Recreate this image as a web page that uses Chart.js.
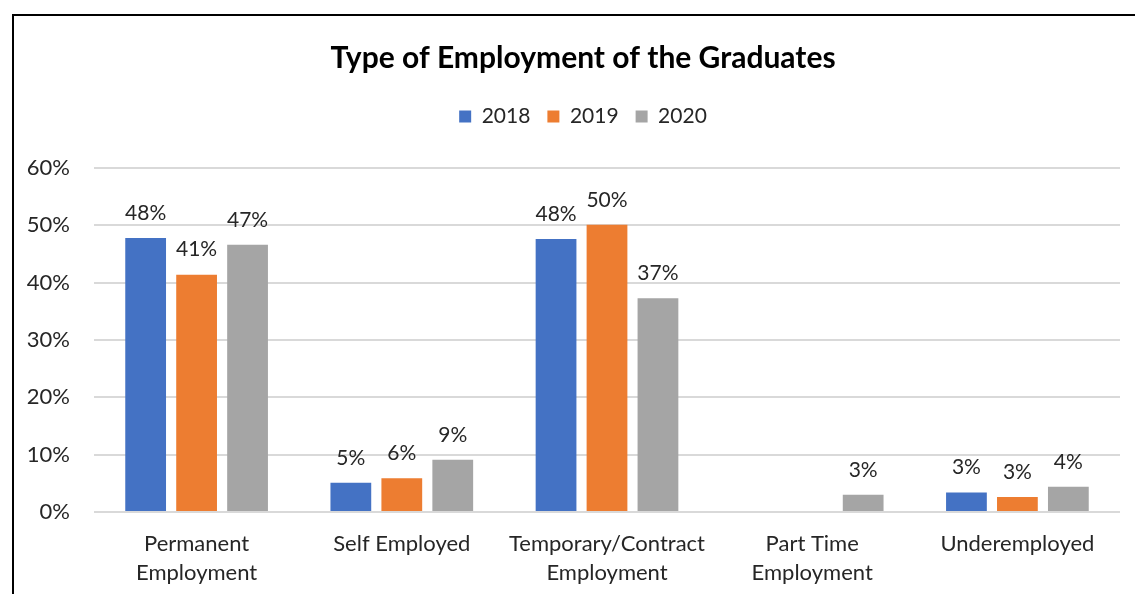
<!DOCTYPE html>
<html>
<head>
<meta charset="utf-8">
<script src="https://cdn.jsdelivr.net/npm/chart.js@4"></script>
<style>
body{margin:0;background:#fff;overflow:hidden;}
#box{position:absolute;left:12px;top:14px;width:1138px;height:578px;border-top:2px solid #000;border-left:2px solid #000;}
</style>
</head>
<body>
<div id="box"><canvas id="myChart" width="1138" height="578"></canvas></div>
<script>
var categories = [['Permanent','Employment'], 'Self Employed', ['Temporary/Contract','Employment'], ['Part Time','Employment'], 'Underemployed'];
var years = ['2018', '2019', '2020'];
var values2018 = [47.8, 5.1, 47.6, null, 3.4];
var values2019 = [41.4, 5.9, 50.1, null, 2.6];
var values2020 = [46.6, 9.1, 37.3, 3.0, 4.4];
var colors = ['#4472c4', '#ed7d31', '#a5a5a5'];
var yTicks = [0, 10, 20, 30, 40, 50, 60];

var FONT = 'Lato';

// extra room under the legend
var legendGap = {
    id: 'legendGap',
    beforeInit: function(chart){
        var fit = chart.legend.fit;
        chart.legend.fit = function(){
            fit.bind(chart.legend)();
            this.height += 31;
        };
    }
};

// percentage labels above the bars
var barLabels = {
    id: 'barLabels',
    afterDatasetsDraw: function(chart){
        var ctx = chart.ctx;
        ctx.save();
        ctx.font = '21px ' + FONT;
        ctx.fillStyle = '#262626';
        ctx.textAlign = 'center';
        ctx.textBaseline = 'middle';
        chart.data.datasets.forEach(function(ds, i){
            chart.getDatasetMeta(i).data.forEach(function(bar, j){
                var v = ds.data[j];
                if (v == null) return;
                ctx.fillText(Math.round(v) + '%', bar.x, bar.y - 25);
            });
        });
        ctx.restore();
    }
};

var series = [values2018, values2019, values2020];

var ctx = document.getElementById('myChart').getContext('2d');
var myChart = new Chart(ctx, {
    type: 'bar',
    data: {
        labels: categories,
        datasets: series.map(function(d, i){
            return {label: years[i], data: d, backgroundColor: colors[i],
                    categoryPercentage: 0.745, barPercentage: 0.8};
        })
    },
    options: {
        responsive: false,
        animation: false,
        layout: {padding: 0},
        plugins: {
            title: {
                display: true,
                text: 'Type of Employment of the Graduates',
                color: '#000',
                font: {family: FONT, size: 30, weight: 'bold'},
                padding: {top: 24, bottom: 13}
            },
            legend: {
                labels: {
                    boxWidth: 12, boxHeight: 12, color: '#262626',
                    font: {family: FONT, size: 21}, padding: 17
                }
            },
            tooltip: {enabled: false}
        },
        scales: {
            x: {
                grid: {display: false},
                border: {display: false},
                ticks: {color: '#262626', font: {family: FONT, size: 22, lineHeight: 1.32}, padding: 9, maxRotation: 0},
                afterFit: function(s){ s.height = 82; }
            },
            y: {
                min: 0, max: 60,
                afterBuildTicks: function(s){ s.ticks = yTicks.map(function(v){ return {value: v}; }); },
                grid: {color: '#d9d9d9', lineWidth: 2, drawTicks: false},
                border: {display: false},
                ticks: {color: '#262626', font: {family: FONT, size: 22}, padding: 24,
                        callback: function(v){ return v + '%'; }},
                afterFit: function(s){ s.width = 80; }
            },
            // empty strip on the right (the chart box runs past the picture edge)
            yRight: {
                type: 'linear', position: 'right',
                grid: {display: false}, border: {display: false},
                ticks: {display: false},
                afterFit: function(s){ s.width = 32; }
            }
        }
    },
    plugins: [legendGap, barLabels]
});
</script>
</body>
</html>
